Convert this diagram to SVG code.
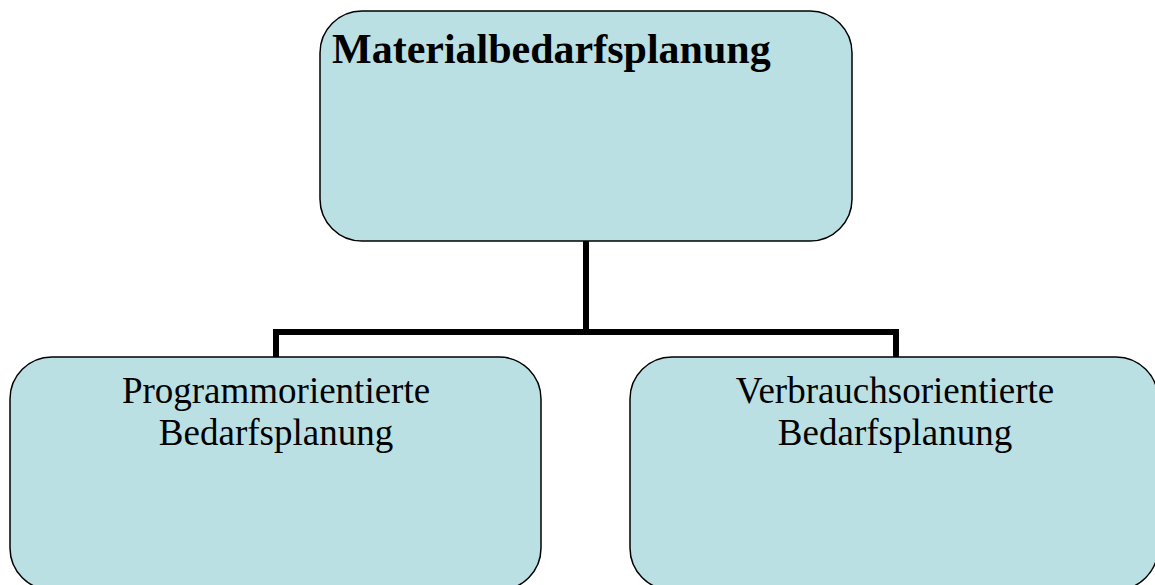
<svg xmlns="http://www.w3.org/2000/svg" width="1155" height="585" viewBox="0 0 1155 585">
  <style>
    .box { fill: #bbe0e3; stroke: #000; stroke-width: 1.5; }
    .link { fill: none; stroke: #000; stroke-width: 6; stroke-linejoin: miter; }
    .title { font-family: "Liberation Serif", "Times New Roman", serif; font-weight: bold; font-size: 42px; fill: #000; }
    .label { font-family: "Liberation Serif", "Times New Roman", serif; font-size: 37px; fill: #000; text-anchor: middle; }
  </style>
  <rect width="1155" height="585" fill="#fff"/>
  <g id="connectors">
    <path class="link" d="M586 241 V332 M276 357 V332 H896 V357"/>
  </g>
  <g id="node-root">
    <rect class="box" x="320" y="11" width="532" height="230" rx="42" ry="42"/>
    <text class="title" x="332" y="63">Materialbedarfsplanung</text>
  </g>
  <g id="node-program">
    <rect class="box" x="10" y="357" width="531" height="233" rx="42" ry="42"/>
    <text class="label" x="276" y="403">Programmorientierte</text>
    <text class="label" x="276" y="445">Bedarfsplanung</text>
  </g>
  <g id="node-verbrauch">
    <rect class="box" x="630" y="357" width="528" height="233" rx="42" ry="42"/>
    <text class="label" x="895" y="403">Verbrauchsorientierte</text>
    <text class="label" x="895" y="445">Bedarfsplanung</text>
  </g>
</svg>
